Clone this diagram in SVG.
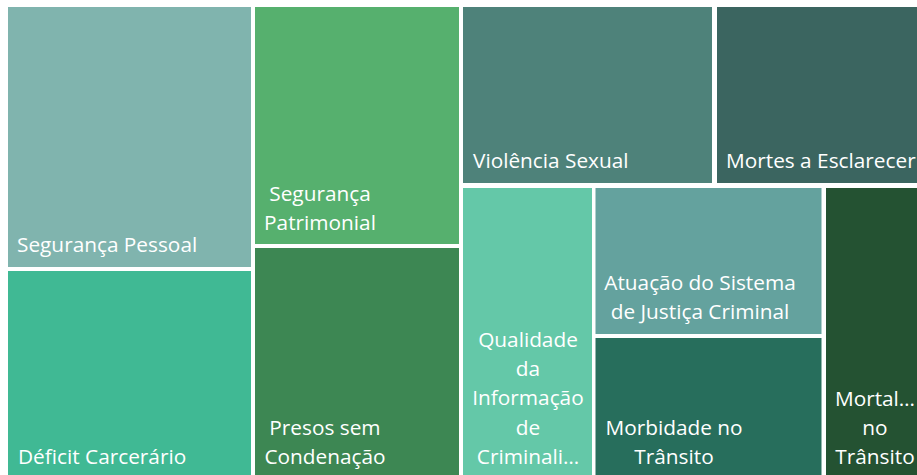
<svg xmlns="http://www.w3.org/2000/svg" width="917" height="475" viewBox="0 0 917 475">
<style>
text{font-family:"Open Sans","Noto Sans","Liberation Sans",sans-serif;font-size:20.8px;fill:#ffffff}
.c{text-anchor:middle}
</style>
<rect x="0" y="0" width="917" height="475" fill="#ffffff"/>
<g id="seguranca-pessoal"><rect x="8" y="7" width="243" height="260" fill="#80B4AE"/><text x="17" y="252">Segurança Pessoal</text></g>
<g id="deficit-carcerario"><rect x="8" y="271" width="243" height="210" fill="#40B994"/><text x="18" y="464">Déficit Carcerário</text></g>
<g id="seguranca-patrimonial"><rect x="255" y="7" width="204" height="237" fill="#56B06E"/><text class="c" x="320" y="201">Segurança</text><text class="c" x="320" y="230">Patrimonial</text></g>
<g id="presos-sem-condenacao"><rect x="255" y="248" width="204" height="233" fill="#3D8753"/><text class="c" x="325" y="435">Presos sem</text><text class="c" x="325" y="464">Condenação</text></g>
<g id="violencia-sexual"><rect x="463" y="7" width="249" height="176" fill="#4E827A"/><text x="473" y="168">Violência Sexual</text></g>
<g id="mortes-a-esclarecer"><rect x="717" y="7" width="206" height="176" fill="#3B6560"/><text x="726" y="168">Mortes a Esclarecer</text></g>
<g id="qualidade-informacao"><rect x="463" y="188" width="129" height="293" fill="#64C8A8"/><text class="c" x="528" y="347">Qualidade</text><text class="c" x="528" y="376">da</text><text class="c" x="528" y="405">Informação</text><text class="c" x="528" y="435">de</text><text class="c" x="528" y="464">Criminali…</text></g>
<g id="atuacao-sistema-justica"><rect x="595.5" y="188" width="226" height="146" fill="#64A29E"/><text class="c" x="700" y="290">Atuação do Sistema</text><text class="c" x="700" y="319">de Justiça Criminal</text></g>
<g id="morbidade-transito"><rect x="595.5" y="338" width="226" height="143" fill="#276E5C"/><text class="c" x="674" y="435">Morbidade no</text><text class="c" x="674" y="464">Trânsito</text></g>
<g id="mortalidade-transito"><rect x="826" y="188" width="97" height="293" fill="#245232"/><text class="c" x="875" y="406">Mortal…</text><text class="c" x="875" y="435">no</text><text class="c" x="875" y="464">Trânsito</text></g>
<g id="connectors"/>
</svg>
